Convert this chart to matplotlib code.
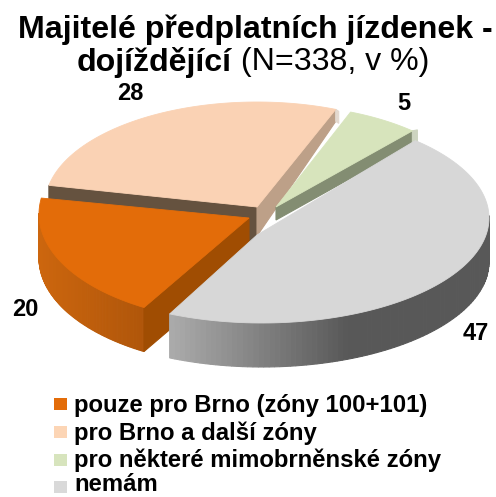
import numpy as np
import matplotlib
matplotlib.use("Agg")
import matplotlib.pyplot as plt
from matplotlib.colors import to_rgb
from matplotlib.patches import Polygon, Rectangle

categories = ["pouze pro Brno (zóny 100+101)", "pro Brno a další zóny", "pro některé mimobrněnské zóny", "nemám"]
values = [20, 28, 5, 47]

plt.rcParams["font.family"] = ["Liberation Sans", "DejaVu Sans"]

top_colors = ["#e36c09", "#fad2b4", "#d7e4bc", "#d7d7d7"]
legend_colors = ["#e36c09", "#fcd5b5", "#d7e4bd", "#d9d9d9"]

# apex, ellipse centre and semi axes of every slice, in pixels
apex = [(249, 218), (257, 207), (276, 207), (257, 235)]
centres = [(249, 214), (257, 205), (276, 213), (262, 218)]
axes_ab = [(210, 108), (212, 103), (210, 108), (227, 105)]
trim = [(-1, 2.5), (0, 0), (1, -0.7), (-2.7, 5)]
depth = 44
label_pos = [(25, 310), (130, 94), (404, 103), (476, 333)]

fig = plt.figure(figsize=(4.96, 4.97), dpi=100)
ax = fig.add_axes([0, 0, 1, 1])
ax.set_xlim(0, 496)
ax.set_ylim(497, 0)
ax.axis("off")

# clockwise, starting at the front end of the orange slice
spans = np.array(values) / sum(values) * 360
ends = []
a = 241.0
for s in spans:
    ends.append((a, a - s))
    a -= s


def rim(i, n=120):
    start = ends[i][0] + trim[i][0]
    stop = ends[i][1] + trim[i][1]
    t = np.radians(np.linspace(start, stop, n))
    x = centres[i][0] + axes_ab[i][0] * np.cos(t)
    y = centres[i][1] - axes_ab[i][1] * np.sin(t)
    return x, y


def wall(x0, y0, x1, y1, color, d0=depth, d1=None, z=1):
    if d1 is None:
        d1 = d0
    ax.add_patch(Polygon([(x0, y0), (x1, y1), (x1, y1 + d1), (x0, y0 + d0)], closed=True,
                         fc=color, ec=color, lw=0.8, zorder=z))


def outer_wall(i, x_light, x_dark, c_light, c_dark, z):
    x, y = rim(i)
    c_light = np.array(to_rgb(c_light))
    c_dark = np.array(to_rgb(c_dark))
    for k in range(len(x) - 1):
        if y[k] < centres[i][1] and y[k + 1] < centres[i][1]:
            continue
        f = np.clip((x[k] - x_light) / (x_dark - x_light), 0, 1)
        wall(x[k], y[k], x[k + 1], y[k + 1], c_light + (c_dark - c_light) * f, z=z)


def top(i, z):
    x, y = rim(i)
    pts = [apex[i]] + list(zip(x, y))
    ax.add_patch(Polygon(pts, closed=True, fc=top_colors[i], ec=top_colors[i], lw=0.6, zorder=z))


# peach slice at the back, its cuts are seen through the gap
x, y = rim(1)
wall(apex[1][0], apex[1][1], x[0], y[0], "#65523f", d0=36, d1=30, z=1)
wall(apex[1][0], apex[1][1], x[-1], y[-1], "#bda088", d0=29, d1=12, z=1)
wall(x[-1], y[-1], x[-1] + 3, y[-1] + 2, "#e3d9cf", d0=12, z=1)
top(1, 2)

# green slice
x, y = rim(2)
wall(apex[2][0], apex[2][1], x[-1], y[-1], "#838d72", d0=13, z=3)
wall(x[-1], y[-1], x[-1] + 5, y[-1] - 1, "#cdd4c0", d0=13, d1=12, z=3)
top(2, 4)

# orange slice
x, y = rim(0)
outer_wall(0, 40, 143, "#cc660e", "#b0560a", 5)
wall(apex[0][0], apex[0][1], x[0], y[0], "#a04d02", z=6)
top(0, 7)

# grey slice in front
outer_wall(3, 173, 350, "#ababab", "#585858", 8)
top(3, 9)

for i, v in enumerate(values):
    ax.text(label_pos[i][0], label_pos[i][1], str(v), fontsize=17, fontweight="bold",
            ha="center", va="center", zorder=10)

ax.text(255, 30, "Majitelé předplatních jízdenek -", fontsize=23.1, fontweight="bold",
        ha="center", va="center")
ax.text(232, 62, "dojíždějící", fontsize=23.1, fontweight="bold", ha="right", va="center")
ax.text(232, 62, " (N=338, v %)", fontsize=23.1, ha="left", va="center")

legend_base = [412, 440, 467, 491]
legend_box = [398, 426, 454, 481]
for i, name in enumerate(categories):
    ax.add_patch(Rectangle((54, legend_box[i]), 13, 12, fc=legend_colors[i], ec="none"))
    ax.text(74, legend_base[i], name, fontsize=17.2, fontweight="bold", ha="left", va="baseline")

fig.savefig("out.png", dpi=100)
